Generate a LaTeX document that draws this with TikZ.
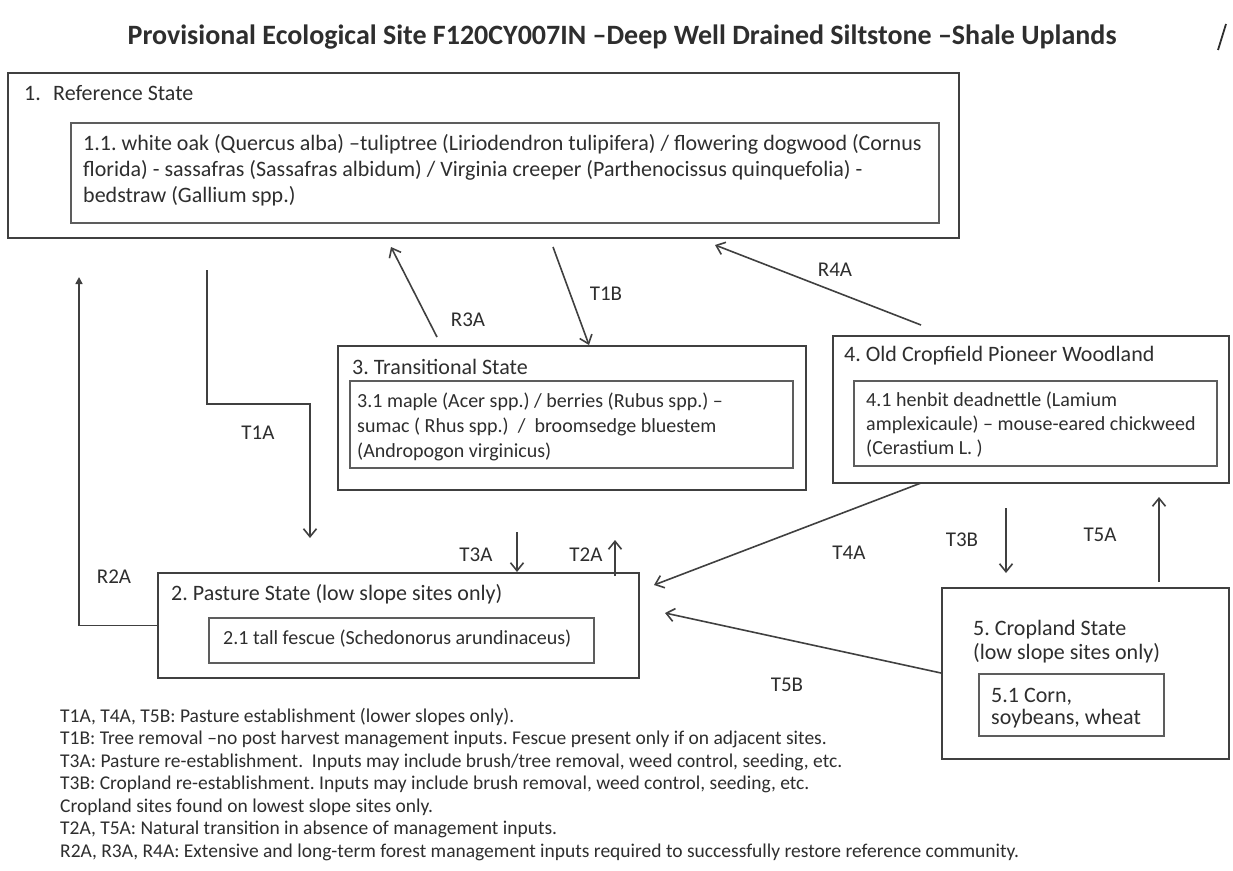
\documentclass[tikz,border=0pt]{standalone}
\usepackage{fontspec}
\setmainfont{Carlito}
\usetikzlibrary{arrows.meta}
\definecolor{ink}{HTML}{2e2e2e}
\definecolor{edge}{HTML}{404040}
\begin{document}
\frenchspacing
\begin{tikzpicture}[x=1pt,y=-1pt,
  outer/.style={draw=edge, line width=2.2pt, anchor=north west, inner sep=0pt},
  inbox/.style={draw=edge!85, line width=1.5pt, anchor=north west, inner sep=0pt},
  head/.style={anchor=base west, inner sep=0pt, text=ink, font=\fontsize{22}{26}\selectfont},
  txt/.style={anchor=base west, inner sep=0pt, text=ink, font=\fontsize{22}{26}\selectfont},
  small/.style={anchor=base west, inner sep=0pt, text=ink, font=\fontsize{20}{24}\selectfont},
  legend/.style={anchor=base west, inner sep=0pt, text=ink, font=\fontsize{19.5}{22}\selectfont},
  lbl/.style={inner sep=0pt, text=ink, font=\fontsize{21}{24}\selectfont},
  arr/.style={draw=edge, line width=1.6pt, -{Straight Barb[length=8pt,width=13pt]}},
  arrs/.style={draw=edge, line width=1.6pt, -{Triangle[length=7pt,width=7pt]}}]
\useasboundingbox (0,0) rectangle (1233,870);
\fill[white] (0,0) rectangle (1233,870);

% title
\node[inner sep=0pt, text=ink, font=\bfseries\fontsize{28}{32}\selectfont] (title) at (622,37)
  {Provisional Ecological Site F120CY007IN –Deep Well Drained Siltstone –Shale Uplands};
\coordinate (markA) at (1226,24);
\coordinate (markB) at (1218,50);
\draw[ink, line width=1.8pt] (markA) -- (markB);

% box 1
\node[outer, minimum width=951pt, minimum height=165pt] (b1) at (7,72) {};
\node[inbox, minimum width=868pt, minimum height=100pt] (b1i) at (70,122) {};
\node[head] (t1) at (24,100) {\makebox[29pt][l]{1.}Reference State};
\node[txt] (t1a) at (83,150) {1.1. white oak (Quercus alba) –tuliptree (Liriodendron tulipifera) / flowering dogwood (Cornus};
\node[txt] (t1b) at (83,176) {florida) - sassafras (Sassafras albidum) / Virginia creeper (Parthenocissus quinquefolia) -};
\node[txt] (t1c) at (83,202) {bedstraw (Gallium spp.)};

% box 3
\node[outer, minimum width=468pt, minimum height=144pt] (b3) at (337,345) {};
\node[inbox, minimum width=443pt, minimum height=87pt] (b3i) at (349,380) {};
\node[head] (t3) at (352,374) {3. Transitional State};
\node[small] (t3a) at (357,407) {3.1 maple (Acer spp.) / berries (Rubus spp.) –};
\node[small] (t3b) at (357,432) {sumac ( Rhus spp.)\ \ /\ \ broomsedge bluestem};
\node[small] (t3c) at (357,457) {(Andropogon virginicus)};

% box 4
\node[outer, minimum width=396pt, minimum height=147pt] (b4) at (832,335) {};
\node[inbox, minimum width=363pt, minimum height=85pt] (b4i) at (853,380) {};
\node[head] (t4) at (844,361) {4. Old Cropfield Pioneer Woodland};
\node[small] (t4a) at (866,406) {4.1 henbit deadnettle (Lamium};
\node[small] (t4b) at (866,430) {amplexicaule) – mouse-eared chickweed};
\node[small] (t4c) at (866,454) {(Cerastium L. )};

% box 2
\node[outer, minimum width=481pt, minimum height=105pt] (b2) at (157,572) {};
\node[inbox, minimum width=385pt, minimum height=45pt] (b2i) at (208,617) {};
\node[head] (t2) at (171,600) {2. Pasture State (low slope sites only)};
\node[small] (t2a) at (223,644) {2.1 tall fescue (Schedonorus arundinaceus)};

% box 5
\node[outer, minimum width=287pt, minimum height=171pt] (b5) at (941,587) {};
\node[inbox, minimum width=185pt, minimum height=62pt] (b5i) at (978,673) {};
\node[head] (t5) at (973,635) {5. Cropland State};
\node[head] (t5b) at (973,659) {(low slope sites only)};
\node[head] (t5c) at (991,702) {5.1 Corn,};
\node[head] (t5d) at (991,724) {soybeans, wheat};

% connectors
\coordinate (r2top) at (79,277);
\draw[arrs] (b2.west) -| (r2top);

\coordinate (t1s) at (207,270);
\coordinate (t1m) at (310,404);
\coordinate (t1e) at (310,538);
\draw[arr] (t1s) |- (t1m) -- (t1e);

\coordinate (r3s) at (437,337);
\coordinate (r3e) at (391,247);
\draw[arr] (r3s) -- (r3e);

\coordinate (t1bs) at (553,247);
\coordinate (t1be) at (589,345);
\draw[arr] (t1bs) -- (t1be);

\coordinate (r4s) at (921,325);
\coordinate (r4e) at (715,245);
\draw[arr] (r4s) -- (r4e);

\coordinate (t3as) at (517,532);
\draw[arr] (t3as) -- (t3as |- b2.north);

\coordinate (t2as) at (615,576);
\coordinate (t2ae) at (615,540);
\draw[arr] (t2as) -- (t2ae);

\coordinate (t4as) at (921,483);
\coordinate (t4ae) at (654,585);
\draw[arr] (t4as) -- (t4ae);

\coordinate (t3bs) at (1006,508);
\coordinate (t3be) at (1006,573);
\draw[arr] (t3bs) -- (t3be);

\coordinate (t5as) at (1159,582);
\coordinate (t5ae) at (1159,497);
\draw[arr] (t5as) -- (t5ae);

\coordinate (t5bs) at (941,673);
\coordinate (t5be) at (665,613);
\draw[arr] (t5bs) -- (t5be);

% labels
\node[lbl] (lR2A) at (114,577) {R2A};
\node[lbl] (lT1A) at (258,433) {T1A};
\node[lbl] (lR3A) at (468,320) {R3A};
\node[lbl] (lT1B) at (606,294) {T1B};
\node[lbl] (lR4A) at (835,270) {R4A};
\node[lbl] (lT3A) at (476,555) {T3A};
\node[lbl] (lT2A) at (586,555) {T2A};
\node[lbl] (lT4A) at (849,553) {T4A};
\node[lbl] (lT3B) at (962,540) {T3B};
\node[lbl] (lT5A) at (1100,535) {T5A};
\node[lbl] (lT5B) at (787,685) {T5B};

% legend
\node[legend] (L1) at (60,722) {T1A, T4A, T5B: Pasture establishment (lower slopes only).};
\node[legend] (L2) at (60,744.5) {T1B: Tree removal –no post harvest management inputs. Fescue present only if on adjacent sites.};
\node[legend] (L3) at (60,767) {T3A: Pasture re-establishment.\ \ Inputs may include brush/tree removal, weed control, seeding, etc.};
\node[legend] (L4) at (60,789.5) {T3B: Cropland re-establishment. Inputs may include brush removal, weed control, seeding, etc.};
\node[legend] (L5) at (60,812) {Cropland sites found on lowest slope sites only.};
\node[legend] (L6) at (60,834.5) {T2A, T5A: Natural transition in absence of management inputs.};
\node[legend] (L7) at (60,857) {R2A, R3A, R4A: Extensive and long-term forest management inputs required to successfully restore reference community.};
\end{tikzpicture}
\end{document}
